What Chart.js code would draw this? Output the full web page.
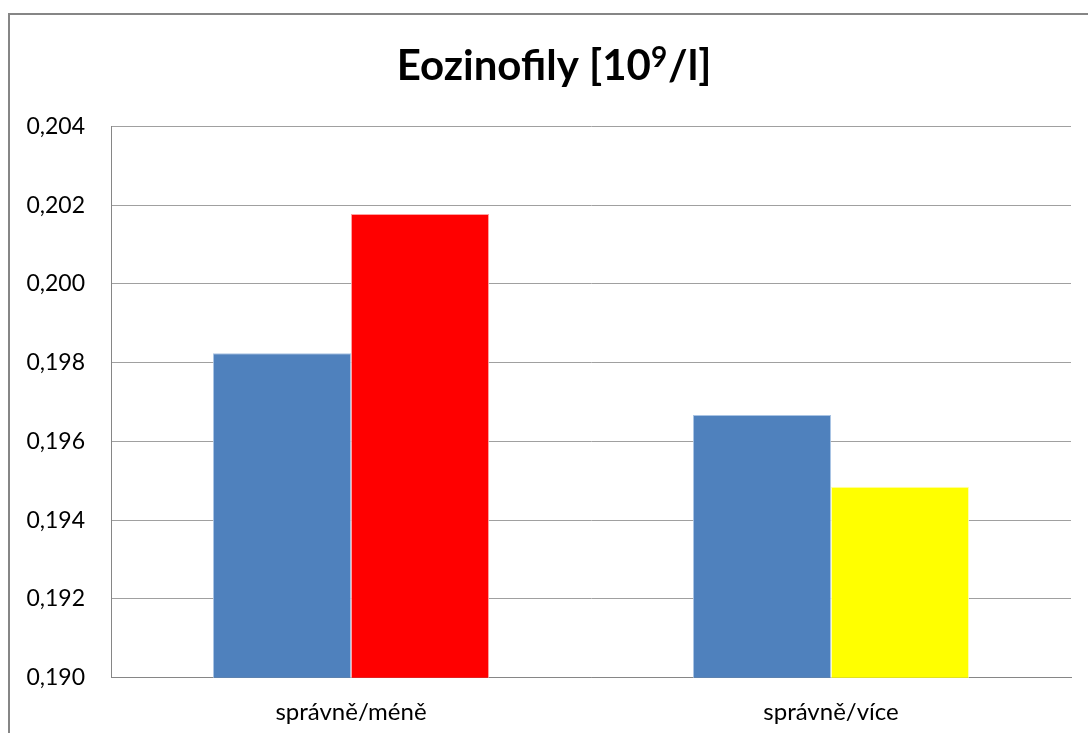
<!DOCTYPE html>
<html>
<head>
<meta charset="utf-8">
<script src="https://cdn.jsdelivr.net/npm/chart.js@4.4.1/dist/chart.umd.min.js"></script>
<style>
html,body{margin:0;padding:0;background:#fff;}
#wrap{position:relative;width:1088px;height:733px;}
</style>
</head>
<body>
<div id="wrap"><canvas id="c" width="1088" height="733"></canvas></div>
<script>
const categories = ['správně/méně', 'správně/více'];
const seriesSpravne = [0.19824, 0.19667];
const seriesOther = [0.20178, 0.19485];
const otherColors = ['#FF0000', '#FFFF00'];
const titleMain = 'Eozinofily [10';
const titleSup = '9';
const titleEnd = '/l]';
const yMin = 0.190, yMax = 0.204, yStep = 0.002;

const borderPlugin = {
  id: 'outerBorder',
  beforeDraw(chart) {
    const ctx = chart.ctx;
    ctx.save();
    ctx.fillStyle = '#fff';
    ctx.fillRect(0, 0, chart.width, chart.height);
    ctx.strokeStyle = '#868686';
    ctx.lineWidth = 2;
    ctx.strokeRect(9, 14, 1200, 1200);
    ctx.restore();
  }
};

const titlePlugin = {
  id: 'supTitle',
  afterDraw(chart) {
    const ctx = chart.ctx;
    ctx.save();
    ctx.fillStyle = '#000';
    ctx.textBaseline = 'alphabetic';
    ctx.textAlign = 'left';
    const big = 'bold 42px Lato';
    const small = 'bold 28px Lato';
    ctx.font = big;
    const w1 = ctx.measureText(titleMain).width;
    const w3 = ctx.measureText(titleEnd).width;
    ctx.font = small;
    const w2 = ctx.measureText(titleSup).width + 1;
    const total = w1 + w2 + w3;
    const cx = 554;
    const base = 80;
    let x = cx - total / 2;
    ctx.font = big;
    ctx.fillText(titleMain, x, base);
    x += w1;
    ctx.font = small;
    ctx.fillText(titleSup, x, base - 13);
    x += w2;
    ctx.font = big;
    ctx.fillText(titleEnd, x, base);
    ctx.restore();
  }
};

new Chart(document.getElementById('c'), {
  type: 'bar',
  data: {
    labels: categories,
    datasets: [
      {
        label: 'správně',
        data: seriesSpravne,
        backgroundColor: '#4F81BD',
        borderColor: 'rgba(160,190,225,0.9)',
        borderWidth: 1,
        categoryPercentage: 0.575,
        barPercentage: 1.0
      },
      {
        label: 'jiné',
        data: seriesOther,
        backgroundColor: otherColors,
        borderColor: ['rgba(255,150,150,0.9)', 'rgba(255,255,170,0.9)'],
        borderWidth: 1,
        categoryPercentage: 0.575,
        barPercentage: 1.0
      }
    ]
  },
  options: {
    responsive: false,
    animation: false,
    devicePixelRatio: 1,
    layout: { padding: { left: 0, right: 17, top: 126.5, bottom: 0 } },
    plugins: {
      legend: { display: false },
      tooltip: { enabled: false },
      title: { display: false }
    },
    scales: {
      x: {
        grid: { display: false, drawTicks: false },
        border: { display: true, color: '#868686', width: 1 },
        ticks: {
          color: '#000',
          font: { family: 'Lato', size: 24 },
          padding: 20,
          maxRotation: 0
        },
        afterFit(scale) { scale.height = 55.3; }
      },
      y: {
        min: yMin,
        max: yMax,
        grid: { color: '#a0a0a0', lineWidth: 1, drawTicks: false },
        border: { display: true, color: '#868686', width: 1 },
        ticks: {
          stepSize: yStep,
          color: '#000',
          font: { family: 'Lato', size: 23 },
          padding: 26,
          callback: (v) => v.toFixed(3).replace('.', ',')
        },
        afterFit(scale) { scale.width = 111; }
      }
    }
  },
  plugins: [borderPlugin, titlePlugin]
});
</script>
</body>
</html>
